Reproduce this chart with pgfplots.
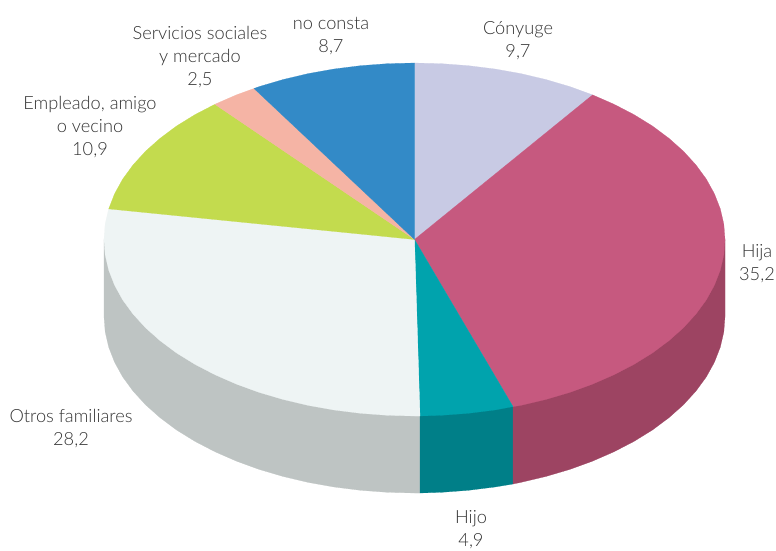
\documentclass[border=0pt]{standalone}
\usepackage{fontspec}
\setmainfont{Lato}[UprightFont=* Light]
\usepackage{pgfplots}
\pgfplotsset{compat=1.18}
\definecolor{conyuge}{HTML}{C8CAE4}
\definecolor{hija}{HTML}{C6597F}
\definecolor{hijaside}{HTML}{9D4462}
\definecolor{hijo}{HTML}{00A3AD}
\definecolor{hijoside}{HTML}{007F88}
\definecolor{otros}{HTML}{EEF4F4}
\definecolor{otrosside}{HTML}{BEC4C3}
\definecolor{empleado}{HTML}{C3DB4E}
\definecolor{servicios}{HTML}{F5B4A5}
\definecolor{noconsta}{HTML}{338AC7}
\definecolor{labelgray}{HTML}{333333}
\pgfplotsset{
	slice/.style = {fill=#1, draw=#1, line width=0.2pt},
}
\tikzset{
	lab/.style = {align=center, text=labelgray, font=\fontsize{18.2}{23}\selectfont, inner sep=0pt},
}
\begin{document}
\begin{tikzpicture}
\begin{axis}[
	scale only axis,
	width=776pt, height=551pt,
	xmin=0, xmax=776, ymin=0, ymax=551,
	y dir=reverse,
	hide axis,
	clip=false,
]
	% page
	\addplot[fill=white, draw=none] coordinates {(0,0) (776,0) (776,551) (0,551)} -- cycle;

	% side walls
	\addplot[slice=otrosside] coordinates {
		(104,239.5) (104,316.5) (105.2,331.9) (108.7,347.1) (114.6,362.2) (122.7,376.9)
		(133.1,391.1) (145.6,404.8) (160.1,417.7) (176.6,430.0) (194.9,441.3) (214.9,451.7)
		(236.4,461.1) (259.2,469.4) (283.3,476.5) (308.3,482.4) (334.1,487.0) (360.6,490.3)
		(387.4,492.3) (414.5,493) (420,493) (420,416)
	} -- cycle;
	\addplot[slice=hijoside] coordinates {
		(420,416) (420,493) (441.6,492.3) (468.4,490.3) (494.9,487.0) (513,484) (513,406.6)
	} -- cycle;
	\addplot[slice=hijaside] coordinates {
		(513,406.6) (513,484) (520.7,482.4) (545.7,476.5) (569.8,469.4) (592.6,461.1)
		(614.1,451.7) (634.1,441.3) (652.4,430.0) (668.9,417.7) (683.4,404.8) (695.9,391.1)
		(706.3,376.9) (714.4,362.2) (720.3,347.1) (723.8,331.9) (725,316.5) (725,239.5)
	} -- cycle;

	% top face
	\addplot[slice=conyuge] coordinates {
		(414.5,239.5) (414.5,63) (441.6,63.7) (468.4,65.7) (494.9,69.0) (520.7,73.6)
		(545.7,79.5) (569.8,86.6) (592.6,94.9)
	} -- cycle;
	\addplot[slice=hija] coordinates {
		(414.5,239.5) (592.6,94.9) (614.1,104.3) (634.1,114.7) (652.4,126.0) (668.9,138.3)
		(683.4,151.2) (695.9,164.9) (706.3,179.1) (714.4,193.8) (720.3,208.9) (723.8,224.1)
		(725,239.5) (723.8,254.9) (720.3,270.1) (714.4,285.2) (706.3,299.9) (695.9,314.1)
		(683.4,327.8) (668.9,340.7) (652.4,353.0) (634.1,364.3) (614.1,374.7) (592.6,384.1)
		(569.8,392.4) (545.7,399.5) (520.7,405.4) (513,406.6)
	} -- cycle;
	\addplot[slice=hijo] coordinates {
		(414.5,239.5) (513,406.6) (494.9,410.0) (468.4,413.3) (441.6,415.3) (420,416)
	} -- cycle;
	\addplot[slice=otros] coordinates {
		(414.5,239.5) (420,416) (414.5,416) (387.4,415.3) (360.6,413.3) (334.1,410.0)
		(308.3,405.4) (283.3,399.5) (259.2,392.4) (236.4,384.1) (214.9,374.7) (194.9,364.3)
		(176.6,353.0) (160.1,340.7) (145.6,327.8) (133.1,314.1) (122.7,299.9) (114.6,285.2)
		(108.7,270.1) (105.2,254.9) (104,239.5) (105.2,224.1) (108.7,208.9)
	} -- cycle;
	\addplot[slice=empleado] coordinates {
		(414.5,239.5) (108.7,208.9) (114.6,193.8) (122.7,179.1) (133.1,164.9) (145.6,151.2)
		(160.1,138.3) (176.6,126.0) (194.9,114.7) (214.9,104.3)
	} -- cycle;
	\addplot[slice=servicios] coordinates {
		(414.5,239.5) (214.9,104.3) (236.4,94.9) (254,88.5)
	} -- cycle;
	\addplot[slice=noconsta] coordinates {
		(414.5,239.5) (254,88.5) (259.2,86.6) (283.3,79.5) (308.3,73.6) (334.1,69.0)
		(360.6,65.7) (387.4,63.7) (414.5,63)
	} -- cycle;

	% labels
	\node[lab] at (axis cs:200,57) {Servicios sociales\\y mercado\\2,5};
	\node[lab] at (axis cs:331,36) {no consta\\8,7};
	\node[lab] at (axis cs:518,41) {Cónyuge\\9,7};
	\node[lab] at (axis cs:90,127) {Empleado, amigo\\o vecino\\10,9};
	\node[lab] at (axis cs:757,264) {Hija\\35,2};
	\node[lab] at (axis cs:71,429) {Otros familiares\\28,2};
	\node[lab] at (axis cs:471,530) {Hijo\\4,9};
\end{axis}
\end{tikzpicture}
\end{document}
